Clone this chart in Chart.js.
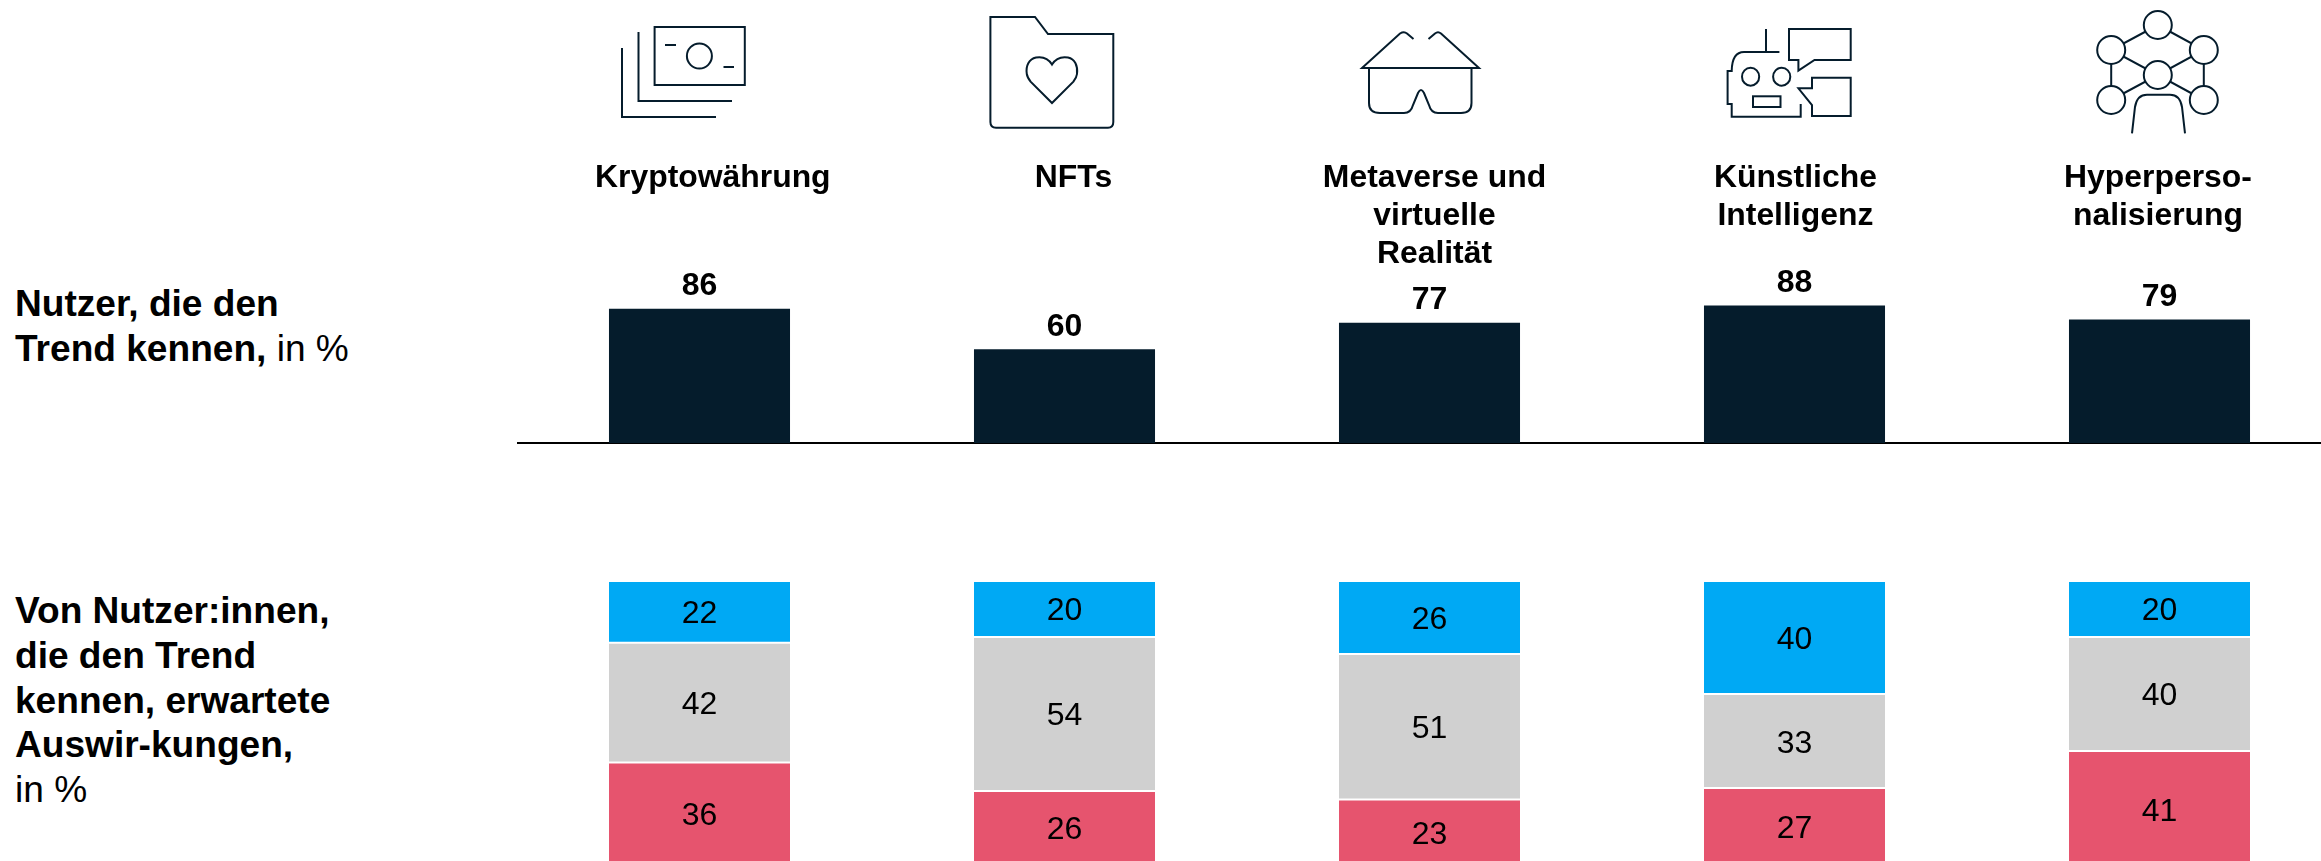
<!DOCTYPE html>
<html lang="de">
<head>
<meta charset="utf-8">
<title>Trends</title>
<script src="https://cdn.jsdelivr.net/npm/chart.js@4"></script>
<style>
html,body{margin:0;padding:0;width:2321px;height:861px;overflow:hidden;background:#fff;font-family:"Liberation Sans",Arial,sans-serif;color:#000}
canvas{position:absolute;display:block}
.side{position:absolute;left:15px;font-size:37.1px;line-height:44.75px;white-space:nowrap}
.side b{font-weight:700}
.head{position:absolute;top:157px;width:340px;margin-left:-170px;text-align:center;font-size:31.9px;line-height:38px;font-weight:700}
svg{position:absolute;left:0;top:0}
svg *{fill:none;stroke:#051C2C;stroke-width:2}
svg .node{fill:#fff}
</style>
</head>
<body>
<div class="side" style="top:281px"><b>Nutzer, die den<br>Trend kennen,</b> in %</div>
<div class="side" style="top:588px"><b>Von Nutzer:innen,<br>die den Trend<br>kennen, erwartete<br>Auswir-kungen,</b><br>in %</div>

<svg width="2321" height="861" viewBox="0 0 2321 861" aria-hidden="true">
  <!-- Kryptowährung -->
  <rect x="654.6" y="27" width="90.2" height="58"/>
  <path d="M638.5 32V101H732"/>
  <path d="M622 48V117H716"/>
  <circle cx="699.4" cy="56" r="12.5"/>
  <path d="M665 45H676M723.5 67H734"/>
  <!-- NFTs -->
  <path d="M990.4 17H1035L1048 34H1113.3V122Q1113.3 127.7 1108 127.7H996Q990.4 127.7 990.4 122Z"/>
  <path d="M1052 64.5C1048 58 1042 56.5 1036 57.5C1029 59 1025.5 66 1026.8 74C1027.2 77 1029 79.5 1030.6 81.7L1052 103L1073.4 81.7C1075 79.5 1076.7 77 1077 74C1078 66 1075 59 1068 57.5C1062 56.5 1056 58 1052 64.5Z"/>
  <!-- Metaverse -->
  <path d="M1413.5 39L1407 33.5Q1404 31 1400 33.5L1362 68H1479L1441 33.5Q1438 31 1435 33.5L1428.5 39"/>
  <path d="M1369 68V103Q1369 113 1380 113H1404Q1411 113 1413 105L1418 93Q1421 87 1424 93L1429 105Q1431 113 1438 113H1461Q1471.5 113 1471.5 103V68"/>
  <!-- Künstliche Intelligenz -->
  <path d="M1789 29H1850.7V60H1814.5L1798.4 70.7V60H1789Z"/>
  <path d="M1812 116H1850.7V77.7H1812V88.3H1798.4L1812 105Z"/>
  <path d="M1766 29V52"/>
  <path d="M1779.4 52H1744Q1732 52 1731.7 71H1727.6V104H1731.7V116.7H1800.7V104"/>
  <ellipse cx="1750.6" cy="76.7" rx="8.6" ry="9"/>
  <ellipse cx="1781.7" cy="76.7" rx="8.6" ry="9"/>
  <rect x="1753" y="96.3" width="27.5" height="10.7"/>
  <!-- Hyperpersonalisierung -->
  <path d="M2157.8 25L2111.2 50L2157.8 75L2111.2 100M2157.8 25L2203.8 50L2157.8 75L2203.8 100M2111.2 50V100M2203.8 50V100"/>
  <circle class="node" cx="2157.8" cy="25" r="14"/>
  <circle class="node" cx="2111.2" cy="50" r="14"/>
  <circle class="node" cx="2203.8" cy="50" r="14"/>
  <circle class="node" cx="2157.8" cy="75" r="14"/>
  <circle class="node" cx="2111.2" cy="100" r="14"/>
  <circle class="node" cx="2203.8" cy="100" r="14"/>
  <path d="M2132 133.3L2135 107Q2137 94.7 2147 94.7H2170Q2180 94.7 2182 107L2185 133.3"/>
</svg>

<canvas id="top" width="1825" height="295" style="left:516.5px;top:150px;width:1825px;height:295px"></canvas>
<canvas id="low" width="1825" height="279" style="left:516.5px;top:582px;width:1825px;height:279px"></canvas>

<script>
const categories = [
  ["Kryptowährung"],
  ["NFTs"],
  ["Metaverse und", "virtuelle", "Realität"],
  ["Künstliche", "Intelligenz"],
  ["Hyperperso-", "nalisierung"]
];
const awareness = [86, 60, 77, 88, 79];
const impactBlue = [22, 20, 26, 40, 20];
const impactGrey = [42, 54, 51, 33, 40];
const impactRed = [36, 26, 23, 27, 41];

const headCenters = [712.8, 1073.5, 1434.5, 1795.4, 2158];
categories.forEach((lines, i) => {
  const d = document.createElement("div");
  d.className = "head";
  d.style.left = headCenters[i] + "px";
  d.innerHTML = lines.join("<br>");
  document.body.appendChild(d);
});

const NAVY = "#051C2C", BLUE = "#00A9F4", GREY = "#D0D0D0", RED = "#E6546E";
const FONT = '"Liberation Sans", Arial, sans-serif';

function valueLabels(id, font, place) {
  return {
    id,
    afterDatasetsDraw(chart) {
      const { ctx } = chart;
      ctx.save();
      ctx.font = font;
      ctx.fillStyle = "#000";
      ctx.textAlign = "center";
      ctx.textBaseline = "alphabetic";
      chart.data.datasets.forEach((ds, di) => {
        chart.getDatasetMeta(di).data.forEach((el, i) => {
          ctx.fillText(String(ds.data[i]), el.x, place(el));
        });
      });
      ctx.restore();
    }
  };
}

const labels = categories.map(l => l.join(" "));
const BAR_PART = { categoryPercentage: 0.496, barPercentage: 1 };

new Chart(document.getElementById("top"), {
  type: "bar",
  data: {
    labels,
    datasets: [{ label: "Nutzer, die den Trend kennen", data: awareness, backgroundColor: NAVY, ...BAR_PART }]
  },
  options: {
    responsive: false,
    animation: false,
    layout: { padding: { left: 0, right: 0, top: 0, bottom: 2 } },
    plugins: { legend: { display: false }, tooltip: { enabled: false } },
    scales: {
      x: {
        display: true,
        grid: { display: false, drawTicks: false },
        ticks: { display: false },
        border: { display: true, color: "#000", width: 2 },
        afterFit(scale) { scale.height = 0; }
      },
      y: { display: false, min: 0, max: 187.6 }
    }
  },
  plugins: [valueLabels("topLabels", "700 32px " + FONT, el => el.y - 13.5)]
});

const segment = (label, data, color) => ({
  label, data, backgroundColor: color,
  borderColor: "#fff", borderWidth: { top: 1, bottom: 1, left: 0, right: 0 }, borderSkipped: false,
  ...BAR_PART
});

new Chart(document.getElementById("low"), {
  type: "bar",
  data: {
    labels,
    datasets: [
      segment("Blau", impactBlue, BLUE),
      segment("Grau", impactGrey, GREY),
      segment("Rot", impactRed, RED)
    ]
  },
  options: {
    responsive: false,
    animation: false,
    layout: { padding: 0 },
    plugins: { legend: { display: false }, tooltip: { enabled: false } },
    scales: {
      x: { display: false, stacked: true },
      y: { display: false, stacked: true, reverse: true, min: 0.7, max: 98.6 }
    }
  },
  plugins: [valueLabels("lowLabels", "400 32px " + FONT, el => (el.y + el.base) / 2 + 11.5)]
});
</script>
</body>
</html>
